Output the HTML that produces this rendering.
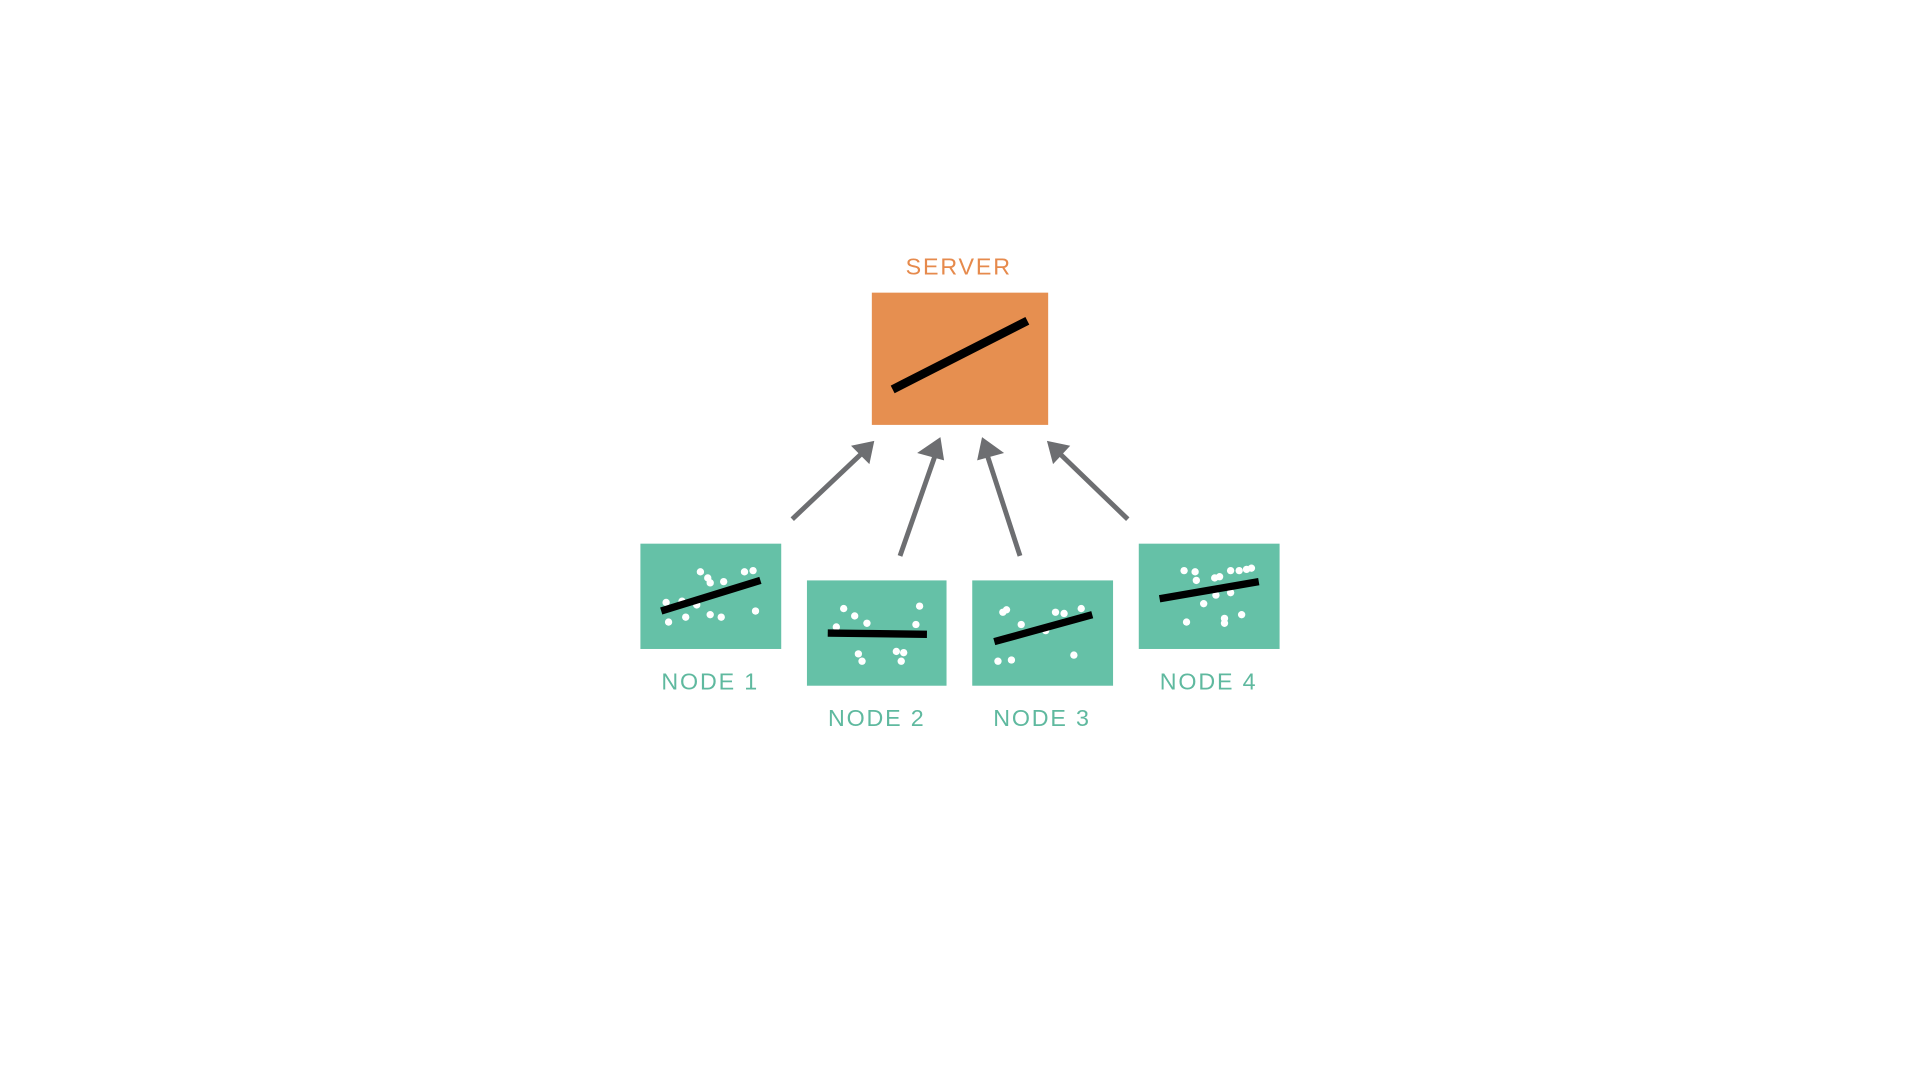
<!DOCTYPE html>
<html><head><meta charset="utf-8"><style>html,body{margin:0;padding:0;background:#fff;}svg{display:block}</style></head>
<body>
<svg width="1920" height="1080" viewBox="0 0 1568 882" xmlns="http://www.w3.org/2000/svg">
<rect width="1568" height="882" fill="#fff"/>
<text x="783" y="224" text-anchor="middle" font-family="Liberation Sans, sans-serif" font-size="19" letter-spacing="1.5" fill="#e68a4c">SERVER</text>
<rect x="712" y="239" width="144" height="108" fill="#e68f50"/>
<line x1="729" y1="318" x2="839" y2="262" stroke="#000" stroke-width="7"/>
<g fill="#6d6e71" stroke="#6d6e71">
<line x1="647" y1="424" x2="703" y2="371" stroke-width="4"/>
<polygon points="714,360 695,364 710,379" stroke="none"/>
<line x1="735" y1="454" x2="764" y2="371" stroke-width="4"/>
<polygon points="768,357 749,370 771,376" stroke="none"/>
<line x1="833" y1="454" x2="806" y2="371" stroke-width="4"/>
<polygon points="802,357 798,376 820,370" stroke="none"/>
<line x1="921" y1="424" x2="866" y2="371" stroke-width="4"/>
<polygon points="855,360 860,379 874,364" stroke="none"/>
</g>
<g fill="#65c1a7">
<rect x="523" y="444" width="115" height="86"/>
<rect x="659" y="474" width="114" height="86"/>
<rect x="794" y="474" width="115" height="86"/>
<rect x="930" y="444" width="115" height="86"/>
</g>
<g fill="#fff">
<circle cx="572" cy="467" r="3"/><circle cx="578" cy="472" r="3"/><circle cx="580" cy="476" r="3"/><circle cx="591" cy="475" r="3"/><circle cx="608" cy="467" r="3"/><circle cx="615" cy="466" r="3"/><circle cx="544" cy="492" r="3"/><circle cx="557" cy="491" r="3"/><circle cx="569" cy="494" r="3"/><circle cx="546" cy="508" r="3"/><circle cx="560" cy="504" r="3"/><circle cx="580" cy="502" r="3"/><circle cx="589" cy="504" r="3"/><circle cx="617" cy="499" r="3"/>
<circle cx="689" cy="497" r="3"/><circle cx="698" cy="503" r="3"/><circle cx="708" cy="509" r="3"/><circle cx="751" cy="495" r="3"/><circle cx="748" cy="510" r="3"/><circle cx="683" cy="512" r="3"/><circle cx="701" cy="534" r="3"/><circle cx="704" cy="540" r="3"/><circle cx="732" cy="532" r="3"/><circle cx="738" cy="533" r="3"/><circle cx="736" cy="540" r="3"/>
<circle cx="819" cy="500" r="3"/><circle cx="822" cy="498" r="3"/><circle cx="834" cy="510" r="3"/><circle cx="862" cy="500" r="3"/><circle cx="869" cy="501" r="3"/><circle cx="883" cy="497" r="3"/><circle cx="854" cy="515" r="3"/><circle cx="815" cy="540" r="3"/><circle cx="826" cy="539" r="3"/><circle cx="877" cy="535" r="3"/>
<circle cx="967" cy="466" r="3"/><circle cx="976" cy="467" r="3"/><circle cx="977" cy="474" r="3"/><circle cx="992" cy="472" r="3"/><circle cx="996" cy="471" r="3"/><circle cx="1005" cy="466" r="3"/><circle cx="1012" cy="466" r="3"/><circle cx="1018" cy="465" r="3"/><circle cx="1022" cy="464" r="3"/><circle cx="983" cy="493" r="3"/><circle cx="993" cy="486" r="3"/><circle cx="1005" cy="484" r="3"/><circle cx="969" cy="508" r="3"/><circle cx="1000" cy="505" r="3"/><circle cx="1000" cy="509" r="3"/><circle cx="1014" cy="502" r="3"/>
</g>
<g stroke="#000" stroke-width="6">
<line x1="540" y1="499" x2="621" y2="474"/>
<line x1="676" y1="517" x2="757" y2="518"/>
<line x1="812" y1="524" x2="892" y2="502"/>
<line x1="947" y1="489" x2="1028" y2="475"/>
</g>
<g font-family="Liberation Sans, sans-serif" font-size="19" letter-spacing="1.5" fill="#5fb99f" text-anchor="middle">
<text x="580" y="563">NODE 1</text>
<text x="716" y="593">NODE  2</text>
<text x="851" y="593">NODE 3</text>
<text x="987" y="563">NODE 4</text>
</g>
</svg>
</body></html>
